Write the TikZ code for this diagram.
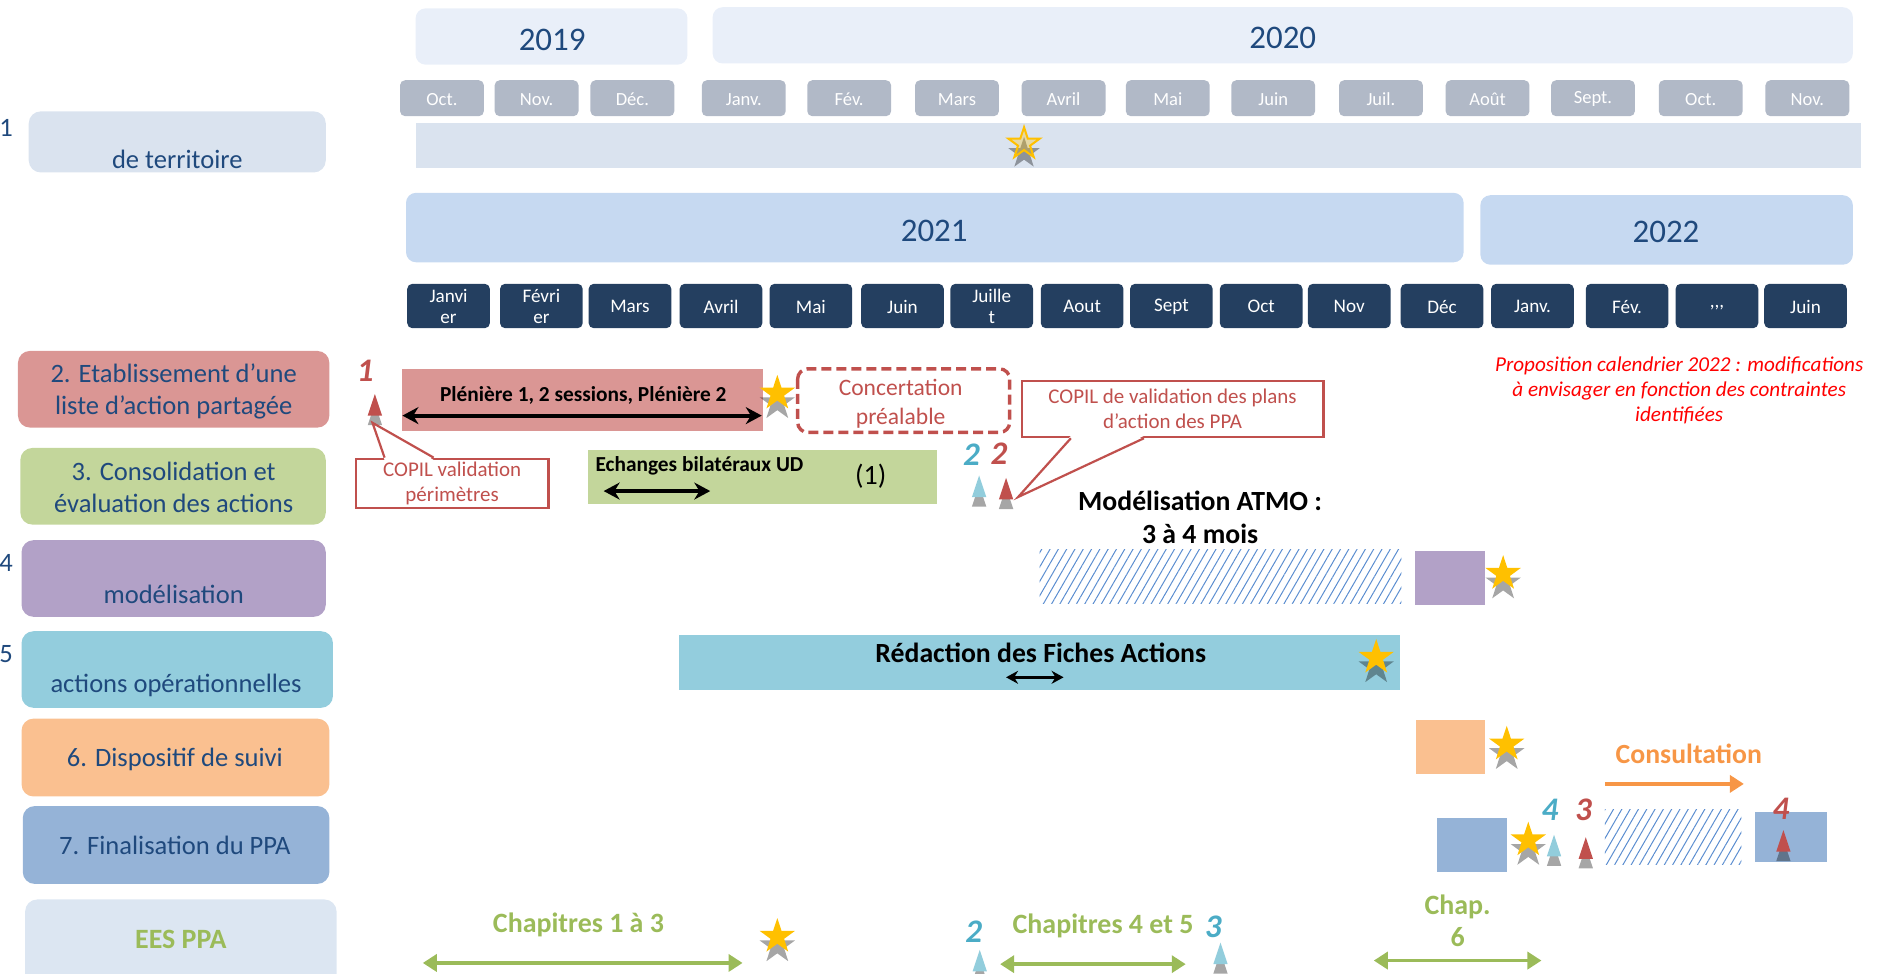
\documentclass[tikz,border=0pt]{standalone}
\usepackage{fontspec}
\setmainfont{Carlito}
\usetikzlibrary{shapes.geometric,arrows.meta,patterns.meta,shadows,calc}

\definecolor{navy}{HTML}{1F497D}
\definecolor{anneeclair}{HTML}{E9EFF9}
\definecolor{anneebleu}{HTML}{C6D9F1}
\definecolor{moisgris}{HTML}{B1B9C7}
\definecolor{moisfonce}{HTML}{243F60}
\definecolor{bande}{HTML}{DAE3EF}
\definecolor{rose}{HTML}{DA9694}
\definecolor{vert}{HTML}{C3D69B}
\definecolor{mauve}{HTML}{B2A1C7}
\definecolor{turquoise}{HTML}{93CDDD}
\definecolor{peche}{HTML}{FAC090}
\definecolor{bleu}{HTML}{95B3D7}
\definecolor{ees}{HTML}{DCE6F2}
\definecolor{copil}{HTML}{C0504D}
\definecolor{bleunum}{HTML}{4BACC6}
\definecolor{bleutri}{HTML}{92CDDC}
\definecolor{jaune}{HTML}{FFC000}
\definecolor{hachure}{HTML}{5B8DD0}
\definecolor{vertees}{HTML}{9BBB59}
\definecolor{orangec}{HTML}{F79646}

\tikzset{every picture/.style={line width=0.75pt},
  anneebox/.style={rounded corners=5pt},
  annee/.style={text=navy,font=\fontsize{16.5}{18}\selectfont},
  moisg/.style={fill=moisgris,rounded corners=2.5pt},
  moisgtxt/.style={text=white,font=\fontsize{9.3}{11}\selectfont},
  moisf/.style={fill=moisfonce,rounded corners=2.5pt},
  moisftxt/.style={text=white,align=center,font=\fontsize{9.6}{10.8}\selectfont},
  etape/.style={rounded corners=6pt},
  etapetxt/.style={text=navy,align=center,font=\fontsize{13.3}{16.2}\selectfont},
  bartxt/.style={font=\bfseries\fontsize{10.7}{12}\selectfont},
  grandtxt/.style={font=\bfseries\fontsize{13.9}{16.2}\selectfont,align=center},
  fleche/.style={{Stealth[length=8pt,width=8.5pt]}-{Stealth[length=8pt,width=8.5pt]},line width=2.1pt},
  flechepetite/.style={{Stealth[length=6pt,width=6.5pt]}-{Stealth[length=6pt,width=6.5pt]},line width=1.7pt},
  flechevert/.style={draw=vertees,line width=1.8pt,{Triangle[length=7pt,width=8.5pt]}-{Triangle[length=7pt,width=8.5pt]}},
  flecheorange/.style={draw=orangec,line width=1.8pt,-{Triangle[length=7pt,width=8.5pt]}},
  chaptxt/.style={text=vertees,align=center,font=\bfseries\fontsize{14}{16.2}\selectfont},
  numrouge/.style={text=copil,font=\bfseries\itshape\fontsize{16.5}{17}\selectfont},
  numbleu/.style={text=bleunum,font=\bfseries\itshape\fontsize{16.5}{17}\selectfont},
  copilbox/.style={draw=copil,fill=white,text=copil,line width=1.1pt,
    align=center,inner sep=0pt,font=\fontsize{10.5}{12.6}\selectfont},
  pointe/.style={draw=copil,line width=1.1pt},
  concert/.style={draw=copil,line width=1.7pt,rounded corners=5pt,dash pattern=on 5pt off 2.5pt},
  etoile/.style={star,star points=5,star point ratio=2.6,minimum size=18.6pt,inner sep=0pt,
    fill=jaune,copy shadow={shadow xshift=0pt,shadow yshift=-4.8pt,fill=black,fill opacity=0.35,draw=none}},
  hach/.style={pattern={Lines[angle=60,distance=3.6pt,line width=0.5pt]},pattern color=hachure},
  pics/jalon/.style={code={
    \fill[black,fill opacity=0.35] (-6,-8) -- (6,-8) -- (0,10) -- cycle;
    \fill[#1] (-6,0) -- (6,0) -- (0,18) -- cycle;
  }}
}

\begin{document}
\begin{tikzpicture}[x=0.6pt,y=0.6pt,yscale=-1]
\useasboundingbox (0,0) rectangle (1568,813);

% annees 2019 - 2020
\path[anneebox,fill=anneeclair] (347,7) rectangle (574,54);
\path[anneebox,fill=anneeclair] (595,6) rectangle (1547,53);
\draw (461,33) node (a2019) [annee] {2019};
\draw (1071,32) node (a2020) [annee] {2020};

% mois 2019 - 2020
\foreach \cx/\mo [count=\i] in {369/Oct., 448/Nov., 528/Déc., 621/Janv., 709/Fév., 799/Mars, 888/Avril, 975/Mai, 1063/Juin, 1153/Juil., 1242/Août, 1330/Sept., 1420/Oct., 1509/Nov.}{
  \path[moisg] (\cx-35,67) rectangle (\cx+35,97);
  \draw (\cx,83) node (mg\i) [moisgtxt] {\mo};
}

% ligne 1
\fill[bande] (347,103) rectangle (1554,140);
\draw (855,120) node (e1) [etoile,minimum size=16.5pt,draw=jaune,line width=1pt,fill opacity=0.3] {};
\path[etape,fill=bande] (24,93) rectangle (272,144);
\draw (5,107) node (n1) [etapetxt] {1};
\draw (148,133) node (l1) [etapetxt] {de territoire};

% annees 2021 - 2022
\path[anneebox,fill=anneebleu] (339,161) rectangle (1222,219);
\path[anneebox,fill=anneebleu] (1236,163) rectangle (1547,221);
\draw (780,193) node (a2021) [annee] {2021};
\draw (1391,194) node (a2022) [annee] {2022};

% mois 2021 - 2022
\foreach \cx/\mo [count=\i] in {374.5/{Janvi\\er}, 452/{Févri\\er}, 526/Mars, 602/Avril, 677/Mai, 753.5/Juin, 828/{Juille\\t}, 903.5/Aout, 978/Sept, 1053/Oct, 1126.5/Nov, 1204/Déc, 1279.5/Janv., 1358.5/Fév., 1433.5/{\raisebox{-2pt}{{,}{,}{,}}}, 1507.5/Juin}{
  \path[moisf] (\cx-34.5,237) rectangle (\cx+34.5,274);
  \draw (\cx,256) node (mf\i) [moisftxt] {\mo};
}

% etapes
\path[etape,fill=rose] (15,293) rectangle (275,357);
\draw (145,327) node (l2) [etapetxt] {2. Etablissement d’une\\liste d’action partagée};
\path[etape,fill=vert] (17,374) rectangle (272,438);
\draw (145,407) node (l3) [etapetxt] {3. Consolidation et\\évaluation des actions};
\path[etape,fill=mauve] (18,451) rectangle (272,515);
\draw (5,470) node (n4) [etapetxt] {4};
\draw (145,496) node (l4) [etapetxt] {modélisation};
\path[etape,fill=turquoise] (18,527) rectangle (278,591);
\draw (5,546) node (n5) [etapetxt] {5};
\draw (147,572) node (l5) [etapetxt] {actions opérationnelles};
\path[etape,fill=peche] (18,600) rectangle (275,665);
\draw (146,634) node (l6) [etapetxt] {6. Dispositif de suivi};
\path[etape,fill=bleu] (19,673) rectangle (275,738);
\draw (146,706) node (l7) [etapetxt] {7. Finalisation du PPA};
\path[etape,fill=ees] (21,751) rectangle (281,840);
\draw (151,784) node (lees) [chaptxt] {EES PPA};

% ligne 2
\draw (305,310) node (n1r) [numrouge] {1};
\pic at (313,347) {jalon=copil};
\coordinate (j1) at (311,353);
\fill[rose] (336,308) rectangle (637,360);
\draw (487,330) node (pl) [bartxt] {Plénière 1, 2 sessions, Plénière 2};
\coordinate (pl-g) at (336,347);
\coordinate (pl-d) at (636,347);
\draw[fleche] (pl-g) -- (pl-d);
\draw (649,328.5) node (e2) [etoile] {};
\draw[concert] (666,308) rectangle (843,361);
\draw (752,337) node (conc) [text=copil,align=center,font=\fontsize{11.8}{14.4}\selectfont] {Concertation\\préalable};
\draw (377.5,403.5) node (cop1) [copilbox,minimum width=96.6pt,minimum height=24.6pt] {COPIL validation\\périmètres};
\coordinate (cop1-a) at ($(cop1.north west)+(25,0)$);
\coordinate (cop1-b) at ($(cop1.north west)+(66,0)$);
\fill[white] ($(cop1-a)+(0,2)$) -- (j1) -- ($(cop1-b)+(0,2)$) -- cycle;
\draw[pointe] (cop1-a) -- (j1) -- (cop1-b);

% ligne 3
\fill[vert] (491,376) rectangle (782,421);
\draw (584,389) node (ech) [bartxt] {Echanges bilatéraux UD};
\draw (727,398) node (un) [font=\fontsize{14}{16}\selectfont] {(1)};
\coordinate (ech-g) at (504,410);
\coordinate (ech-d) at (593,410);
\draw[fleche] (ech-g) -- (ech-d);
\draw (811,380) node (n2b) [numbleu] {2};
\draw (834,379) node (n2r) [numrouge] {2};
\pic at (817.5,415) {jalon=bleutri};
\pic at (840,417) {jalon=copil};
\coordinate (j2) at (850,415);
\draw (979,341.5) node (cop2) [copilbox,minimum width=151.2pt,minimum height=28.2pt] {COPIL de validation des plans\\d’action des PPA};
\coordinate (cop2-a) at ($(cop2.south west)+(42,0)$);
\coordinate (cop2-b) at ($(cop2.south west)+(103,0)$);
\fill[white] ($(cop2-a)+(0,-2)$) -- (j2) -- ($(cop2-b)+(0,-2)$) -- cycle;
\draw[pointe] (cop2-a) -- (j2) -- (cop2-b);
\draw (1002,432) node (atmo) [grandtxt] {Modélisation ATMO :\\3 à 4 mois};

% ligne 4
\path[hach] (868,459) rectangle (1170,504);
\fill[mauve] (1181,460) rectangle (1240,505);
\draw (1255,479) node (e3) [etoile] {};

% ligne 5
\fill[turquoise] (567,530) rectangle (1169,576);
\draw (869,545) node (redac) [grandtxt] {Rédaction des Fiches Actions};
\coordinate (redac-g) at (840,565.5);
\coordinate (redac-d) at (888,565.5);
\draw[flechepetite] (redac-g) -- (redac-d);
\draw (1149,549) node (e4) [etoile] {};

% ligne 6
\fill[peche] (1182,601) rectangle (1240,646);
\draw (1258,621.5) node (e5) [etoile] {};
\draw (1410,629) node (cons) [text=orangec,font=\bfseries\fontsize{13.9}{16}\selectfont] {Consultation};
\coordinate (cons-g) at (1340,654.5);
\coordinate (cons-d) at (1456,654.5);
\draw[flecheorange] (cons-g) -- (cons-d);

% ligne 7
\fill[bleu] (1200,683) rectangle (1258,728);
\draw (1276,701.5) node (e6) [etoile] {};
\pic at (1297.5,715) {jalon=bleutri};
\draw (1294,676) node (n4b) [numbleu] {4};
\pic at (1324,717) {jalon=copil};
\draw (1322,676) node (n3r) [numrouge] {3};
\path[hach] (1340,676) rectangle (1454,722);
\fill[bleu] (1465,678) rectangle (1525,720);
\pic at (1489,711) {jalon=copil};
\draw (1487,675) node (n4r) [numrouge] {4};

% EES
\draw (483,772) node (ch13) [chaptxt] {Chapitres 1 à 3};
\coordinate (ch13-g) at (353,804);
\coordinate (ch13-d) at (620,804);
\draw[flechevert] (ch13-g) -- (ch13-d);
\draw (649,782) node (e7) [etoile] {};
\draw (813,778) node (n2bb) [numbleu] {2};
\pic at (818,811) {jalon=bleutri};
\draw (921,773) node (ch45) [chaptxt] {Chapitres 4 et 5};
\coordinate (ch45-g) at (835,805);
\coordinate (ch45-d) at (990,805);
\draw[flechevert] (ch45-g) -- (ch45-d);
\draw (1013,774) node (n3b) [numbleu] {3};
\pic at (1019,805) {jalon=bleutri};
\draw (1217,769) node (ch6) [chaptxt] {Chap.\\6};
\coordinate (ch6-g) at (1147,802);
\coordinate (ch6-d) at (1287,802);
\draw[flechevert] (ch6-g) -- (ch6-d);

% proposition
\draw (1402,326) node (prop) [text=red,align=center,font=\itshape\fontsize{10.6}{12.5}\selectfont] {Proposition calendrier 2022 : modifications\\à envisager en fonction des contraintes\\identifiées};

\end{tikzpicture}
\end{document}
